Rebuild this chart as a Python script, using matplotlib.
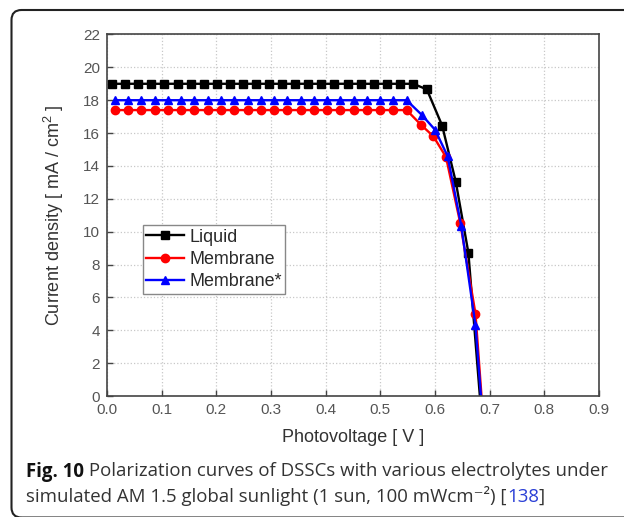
import matplotlib
matplotlib.use("Agg")
import matplotlib.pyplot as plt
from matplotlib.patches import FancyBboxPatch
from matplotlib.transforms import IdentityTransform

plt.rcParams['font.family'] = ['Liberation Sans', 'DejaVu Sans']
plt.rcParams['mathtext.fontset'] = 'custom'
plt.rcParams['mathtext.rm'] = 'Liberation Sans'

# values
liquid_v = [0.009, 0.033, 0.057, 0.081, 0.105, 0.129, 0.153, 0.177, 0.201, 0.225,
            0.249, 0.272, 0.296, 0.320, 0.344, 0.368, 0.392, 0.416, 0.440, 0.464,
            0.488, 0.512, 0.536, 0.560, 0.585, 0.613, 0.638, 0.661, 0.682]
liquid_j = [19.0, 19.0, 19.0, 19.0, 19.0, 19.0, 19.0, 19.0, 19.0, 19.0,
            19.0, 19.0, 19.0, 19.0, 19.0, 19.0, 19.0, 19.0, 19.0, 19.0,
            19.0, 19.0, 19.0, 19.0, 18.66, 16.46, 13.03, 8.72, 0.0]

membrane_v = [0.015, 0.039, 0.063, 0.088, 0.112, 0.136, 0.160, 0.185, 0.209, 0.233,
              0.257, 0.282, 0.306, 0.330, 0.354, 0.379, 0.403, 0.427, 0.451, 0.476,
              0.500, 0.524, 0.548, 0.5745, 0.597, 0.620, 0.646, 0.674, 0.685]
membrane_j = [17.4, 17.4, 17.4, 17.4, 17.4, 17.4, 17.4, 17.4, 17.4, 17.4,
              17.4, 17.4, 17.4, 17.4, 17.4, 17.4, 17.4, 17.4, 17.4, 17.4,
              17.4, 17.4, 17.4, 16.5, 15.8, 14.55, 10.55, 5.0, 0.0]

membrane2_v = [0.015, 0.039, 0.063, 0.088, 0.112, 0.136, 0.160, 0.185, 0.209, 0.233,
               0.257, 0.282, 0.306, 0.330, 0.354, 0.379, 0.403, 0.427, 0.451, 0.476,
               0.500, 0.524, 0.548, 0.576, 0.600, 0.623, 0.648, 0.674, 0.684]
membrane2_j = [18.0, 18.0, 18.0, 18.0, 18.0, 18.0, 18.0, 18.0, 18.0, 18.0,
               18.0, 18.0, 18.0, 18.0, 18.0, 18.0, 18.0, 18.0, 18.0, 18.0,
               18.0, 18.0, 18.0, 17.1, 16.2, 14.6, 10.35, 4.3, 0.0]

x_ticks = [0.0, 0.1, 0.2, 0.3, 0.4, 0.5, 0.6, 0.7, 0.8, 0.9]
y_ticks = [0, 2, 4, 6, 8, 10, 12, 14, 16, 18, 20, 22]

fig = plt.figure(figsize=(6.24, 5.17), dpi=100)
ax = fig.add_axes([0.1715, 0.234, 0.7885, 0.6993])

series = [
    (liquid_v, liquid_j, 'black', 's', 'Liquid'),
    (membrane_v, membrane_j, 'red', 'o', 'Membrane'),
    (membrane2_v, membrane2_j, 'blue', '^', 'Membrane*'),
]
for v, j, c, m, lab in series:
    # last point is where the curve meets the axis, no marker there
    ax.plot(v, j, color=c, marker=m, markersize=6, linewidth=1.7,
            markevery=list(range(len(v) - 1)), label=lab)

ax.set_xlim(0, 0.9)
ax.set_ylim(0, 22)
ax.set_xticks(x_ticks)
ax.set_xticklabels([f"{t:.1f}" for t in x_ticks])
ax.set_yticks(y_ticks)
ax.tick_params(direction='in', length=4, width=1, colors='#444444',
               labelsize=11, labelcolor='#555555', pad=5)
ax.grid(True, linestyle=':', color='#c8c8c8', linewidth=0.9)
for s in ax.spines.values():
    s.set_color('#444444')
    s.set_linewidth(1.2)

ax.set_xlabel("Photovoltage [ V ]", fontsize=13, color='#333333', labelpad=9)
ax.set_ylabel("Current density [ mA / cm$^2$ ]", fontsize=13, color='#333333', labelpad=12)

leg = ax.legend(loc='upper left', bbox_to_anchor=(0.0726, 0.473), borderaxespad=0,
                fontsize=12.9, handlelength=2.1, handletextpad=0.3, labelspacing=0.3,
                borderpad=0.2, fancybox=False, framealpha=1)
leg.get_frame().set_edgecolor('#888888')
leg.get_frame().set_linewidth(1.0)
for t in leg.get_texts():
    t.set_color('#2a2a2a')

# rounded frame around figure + caption
frame = FancyBboxPatch((11.5, -0.5), 640, 507.5, boxstyle="round,pad=0,rounding_size=10",
                       transform=IdentityTransform(), fill=False, edgecolor='#222222',
                       linewidth=1.5)
fig.patches.append(frame)

# caption, placed run by run
fig.canvas.draw()
renderer = fig.canvas.get_renderer()
cap_family = ['Open Sans', 'DejaVu Sans']
cap_size = 13.4


def put_runs(runs, x_px, y_px):
    x = x_px
    for txt, weight, col in runs:
        t = fig.text(x / 624, 1 - y_px / 517, txt, fontsize=cap_size, family=cap_family,
                     weight=weight, color=col, ha='left', va='baseline')
        x = t.get_window_extent(renderer).x1


put_runs([("Fig. 10", 'bold', '#111111'),
          (" Polarization curves of DSSCs with various electrolytes under", 'normal', '#333333')],
         26.5, 476.5)
put_runs([("simulated AM 1.5 global sunlight (1 sun, 100 mWcm\u207b\u00b2) [", 'normal', '#333333'),
          ("138", 'normal', '#2a3fd6'),
          ("]", 'normal', '#333333')],
         26.5, 501.5)

fig.savefig("out.png", dpi=100)
